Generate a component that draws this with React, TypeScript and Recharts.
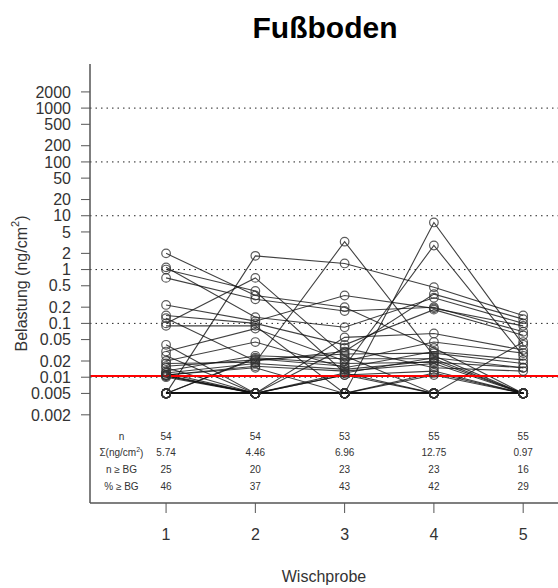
import React from 'react';
import { LineChart, Line, XAxis, YAxis, ReferenceLine, ReferenceDot } from 'recharts';

// Wischprobe 1..5, one entry per sampled spot (55 spots), values in ng/cm2
// values below BG are plotted at 0.005
const probes = [1, 2, 3, 4, 5];

const w1 = [
  2.0, 1.1, 1.0, 0.7, 0.22, 0.14, 0.125, 0.1, 0.09, 0.04, 0.03, 0.005, 0.02, 0.018, 0.016,
  0.005, 0.013, 0.005, 0.012, 0.011, 0.011, 0.011, 0.0105, 0.0105, 0.01, 0.005, 0.015, 0.025, 0.012,
  0.005, 0.005, 0.005, 0.005, 0.005, 0.005, 0.005, 0.005, 0.005, 0.005, 0.005, 0.005, 0.005,
  0.005, 0.005, 0.005, 0.005, 0.005, 0.005, 0.005, 0.005, 0.005, 0.005, 0.005, 0.005, null,
];
const w2 = [
  0.33, 0.13, 0.4, 0.28, 0.11, 0.1, 0.02, 0.7, 0.09, 0.005, 0.08, 0.022, 0.045, 0.019, 0.021,
  1.8, 0.025, 0.023, 0.018, 0.016, 0.005, 0.015, 0.005, 0.005, 0.005, 0.005, 0.005, 0.005, 0.005,
  0.005, 0.005, 0.005, 0.005, 0.005, 0.005, 0.005, 0.005, 0.005, 0.005, 0.005, 0.005, 0.005,
  0.005, 0.005, 0.005, 0.005, 0.005, 0.005, 0.005, 0.005, 0.005, 0.005, 0.005, null, 0.005,
];
const w3 = [
  0.2, 0.085, 0.012, 0.17, 0.33, 0.04, 0.03, 0.025, 0.005, 0.055, 0.02, 0.016, 0.015, 3.3, 0.027,
  1.3, 0.022, 0.018, 0.014, 0.013, 0.035, 0.005, 0.012, 0.011, 0.005, 0.011, 0.005, 0.005, 0.005,
  0.005, 0.005, 0.005, 0.005, 0.005, 0.005, 0.005, 0.005, 0.005, 0.005, 0.005, 0.005, 0.005,
  0.005, 0.005, 0.005, 0.005, 0.005, 0.005, 0.005, 0.005, 0.005, null, null, 0.005, 0.005,
];
const w4 = [
  0.035, 0.3, 0.023, 0.2, 0.19, 0.18, 0.35, 0.005, 7.5, 0.065, 0.045, 2.8, 0.03, 0.025, 0.028,
  0.47, 0.022, 0.019, 0.02, 0.018, 0.015, 0.012, 0.005, 0.013, 0.011, 0.005, 0.005, 0.005, 0.005,
  0.005, 0.005, 0.005, 0.005, 0.005, 0.005, 0.005, 0.005, 0.005, 0.005, 0.005, 0.005, 0.005,
  0.005, 0.005, 0.005, 0.005, 0.005, 0.005, 0.005, 0.005, 0.005, 0.005, 0.005, 0.005, 0.005,
];
const w5 = [
  0.005, 0.1, 0.015, 0.07, 0.09, 0.06, 0.12, 0.045, 0.04, 0.032, 0.028, 0.025, 0.021, 0.005, 0.018,
  0.14, 0.005, 0.015, 0.005, 0.005, 0.013, 0.005, 0.005, 0.005, 0.005, 0.005, 0.005, 0.005, 0.005,
  0.005, 0.005, 0.005, 0.005, 0.005, 0.005, 0.005, 0.005, 0.005, 0.005, 0.005, 0.005, 0.005,
  0.005, 0.005, 0.005, 0.005, 0.005, 0.005, 0.005, 0.005, 0.005, 0.005, 0.005, 0.005, 0.005,
];

// summary table under the lines
const nValues = ['54', '54', '53', '55', '55'];
const sumValues = ['5.74', '4.46', '6.96', '12.75', '0.97'];
const nAboveBG = ['25', '20', '23', '23', '16'];
const pctAboveBG = ['46', '37', '43', '42', '29'];

const yTicks = [0.002, 0.005, 0.01, 0.02, 0.05, 0.1, 0.2, 0.5, 1, 2, 5, 10, 20, 50, 100, 200, 500, 1000, 2000];
const gridLevels = [0.01, 0.1, 1, 10, 100, 1000];
const bgLevel = 0.0105;

const FONT = '"Liberation Sans", Arial, sans-serif';
const AXIS = '#555';
const TEXT = '#333';

const columns = [w1, w2, w3, w4, w5];
const chartData = probes.map((p, j) => {
  const row: any = { x: p };
  columns[j].forEach((v, i) => { row['s' + i] = v; });
  return row;
});

const TABLE_Y = 0.0008; // first table row sits here, others stack below
const ROW_GAP = 16.7;

const TableColumn = ({ viewBox, lines }: any) => {
  const cx = viewBox.x + viewBox.width / 2;
  const cy = viewBox.y + viewBox.height / 2;
  return (
    <g>
      {lines.map((t: any, k: number) => (
        <text key={k} x={cx} y={cy + k * ROW_GAP} textAnchor="middle" dominantBaseline="central"
          fontSize={10} fill={TEXT} fontFamily={FONT}>{t}</text>
      ))}
    </g>
  );
};

const YLabel = ({ viewBox }: any) => {
  const x = viewBox.x + 21;
  const y = viewBox.y + viewBox.height / 2;
  return (
    <text x={x} y={y} transform={`rotate(-90, ${x}, ${y})`} textAnchor="middle" dominantBaseline="central"
      fontSize={16} fill={TEXT} fontFamily={FONT}>
      Belastung (ng/cm<tspan dy={-6} fontSize={11}>2</tspan><tspan dy={6}>)</tspan>
    </text>
  );
};

const rowLabels = [
  'n',
  <>{'Σ(ng/cm'}<tspan dy={-4} fontSize={7}>2</tspan><tspan dy={4}>)</tspan></>,
  'n ≥ BG',
  '% ≥ BG',
];

export default function App() {
  return (
    <div style={{ position: 'absolute', left: 0, top: 0, width: 558, height: 588, background: '#fff', fontFamily: FONT }}>
      <div style={{ position: 'absolute', left: 90, width: 470, top: 11, textAlign: 'center', fontSize: 30, fontWeight: 'bold', color: '#000' }}>
        Fußboden
      </div>
      <LineChart width={558} height={588} data={chartData} margin={{ top: 64, right: 0, bottom: 0, left: 0 }}>
        <XAxis xAxisId="top" orientation="top" type="number" dataKey="x" domain={[0.148, 5.39]} allowDataOverflow
          tick={false} tickLine={false} height={0} axisLine={{ stroke: AXIS, strokeWidth: 1.5 }} />
        <XAxis type="number" dataKey="x" domain={[0.148, 5.39]} allowDataOverflow ticks={probes} interval={0}
          height={85} tickSize={10} tickMargin={16}
          tick={{ fontSize: 16, fill: TEXT, fontFamily: FONT }}
          tickLine={{ stroke: AXIS }} axisLine={{ stroke: AXIS, strokeWidth: 1.5 }}
          label={{ value: 'Wischprobe', position: 'insideBottom', offset: 6, fontSize: 16, fill: TEXT, fontFamily: FONT }} />
        <YAxis type="number" scale="log" domain={[0.000046, 6600]} allowDataOverflow ticks={yTicks} interval={0}
          width={90} tickSize={9} tickMargin={10}
          tickFormatter={(v: number) => String(v)}
          tick={{ fontSize: 16, fill: TEXT, fontFamily: FONT }}
          tickLine={{ stroke: AXIS }} axisLine={{ stroke: AXIS, strokeWidth: 1.5 }}
          label={<YLabel />} />
        {gridLevels.map((g) => (
          <ReferenceLine key={g} y={g} stroke="#222" strokeDasharray="1.5 4" strokeWidth={1} />
        ))}
        {w1.map((_, i) => (
          <Line key={i} type="linear" dataKey={'s' + i} stroke="#111" strokeOpacity={0.8} strokeWidth={1.1}
            dot={{ r: 4.3, stroke: '#333', strokeWidth: 1.2, fill: 'none' }} activeDot={false}
            connectNulls={false} isAnimationActive={false} />
        ))}
        <ReferenceLine y={bgLevel} stroke="#ff0000" strokeWidth={2} />
        {probes.map((p, j) => (
          <ReferenceDot key={p} x={p} y={TABLE_Y} r={1} fill="none" stroke="none"
            label={<TableColumn lines={[nValues[j], sumValues[j], nAboveBG[j], pctAboveBG[j]]} />} />
        ))}
        <ReferenceDot x={0.5} y={TABLE_Y} r={1} fill="none" stroke="none"
          label={<TableColumn lines={rowLabels} />} />
      </LineChart>
    </div>
  );
}
